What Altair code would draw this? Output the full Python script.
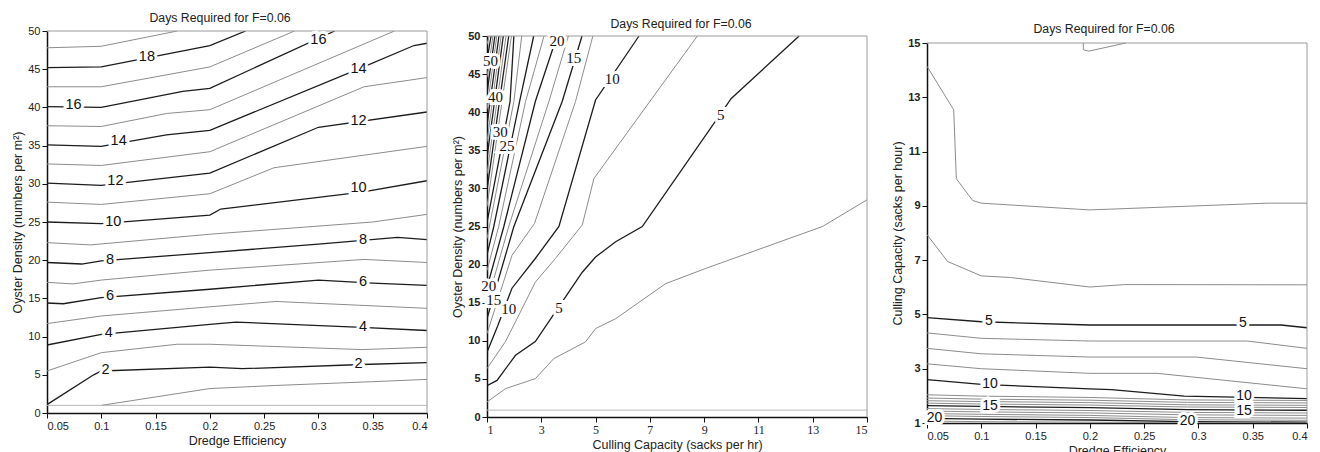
import altair as alt
import pandas as pd

FONT = "Liberation Sans"
SERIF = "Liberation Serif"
TITLE = "Days Required for F=0.06"

# ---------------- Panel A: oyster density vs dredge efficiency -------------
A_D19 = [(0.05, 47.8), (0.1, 48.0), (0.17, 50)]
A_D18 = [(0.05, 45.2), (0.1, 45.3), (0.2, 48.1), (0.233, 50)]
A_D17 = [(0.05, 42.7), (0.1, 42.7), (0.2, 45.3), (0.278, 50)]
A_D16 = [(0.05, 40.1), (0.1, 40.0), (0.175, 42.1), (0.2, 42.5), (0.315, 50)]
A_D15 = [(0.05, 37.6), (0.1, 37.5), (0.16, 39.2), (0.2, 39.7), (0.37, 50)]
A_D14 = [(0.05, 35.1), (0.1, 34.9), (0.16, 36.4), (0.2, 37.0), (0.34, 45.2), (0.388, 48.1), (0.4, 48.4)]
A_D13 = [(0.05, 32.6), (0.1, 32.4), (0.2, 34.2), (0.342, 42.7), (0.4, 43.9)]
A_D12 = [(0.05, 30.1), (0.1, 29.8), (0.2, 31.4), (0.3, 37.4), (0.4, 39.4)]
A_D11 = [(0.05, 27.6), (0.1, 27.3), (0.2, 28.7), (0.259, 32.1), (0.4, 34.9)]
A_D10 = [(0.05, 25.0), (0.1, 24.8), (0.2, 25.9), (0.21, 26.7), (0.34, 28.9), (0.4, 30.4)]
A_D9 = [(0.05, 22.3), (0.09, 22.0), (0.2, 23.4), (0.35, 25.0), (0.4, 26.0)]
A_D8 = [(0.05, 19.7), (0.082, 19.5), (0.1, 19.9), (0.2, 21.0), (0.3, 22.1), (0.373, 23.0), (0.4, 22.7)]
A_D7 = [(0.05, 17.1), (0.074, 16.9), (0.1, 17.4), (0.2, 18.7), (0.342, 20.1), (0.4, 19.7)]
A_D6 = [(0.05, 14.4), (0.065, 14.3), (0.1, 15.1), (0.2, 16.2), (0.3, 17.4), (0.35, 17.0), (0.4, 16.7)]
A_D5 = [(0.05, 11.7), (0.1, 12.7), (0.2, 13.9), (0.261, 14.6), (0.4, 13.7)]
A_D4 = [(0.05, 8.9), (0.1, 10.3), (0.2, 11.6), (0.224, 11.9), (0.34, 11.2), (0.4, 10.8)]
A_D3 = [(0.05, 5.5), (0.1, 7.9), (0.17, 9.0), (0.2, 9.0), (0.34, 8.3), (0.4, 8.6)]
A_D2 = [(0.05, 1.1), (0.093, 5.0), (0.1, 5.5), (0.2, 6.0), (0.23, 5.8), (0.34, 6.35), (0.4, 6.6)]
A_D1 = [(0.1, 1.0), (0.2, 3.2), (0.26, 3.6), (0.35, 4.1), (0.4, 4.4)]
A_LINES = [(19, A_D19), (18, A_D18), (17, A_D17), (16, A_D16), (15, A_D15), (14, A_D14),
           (13, A_D13), (12, A_D12), (11, A_D11), (10, A_D10), (9, A_D9), (8, A_D8),
           (7, A_D7), (6, A_D6), (5, A_D5), (4, A_D4), (3, A_D3), (2, A_D2), (1, A_D1)]
A_LABEL_TEXT = ["18", "16", "14", "16", "14", "12", "12", "10", "10", "8", "8", "6", "6", "4", "4", "2", "2"]
A_LABEL_X = [0.142, 0.300, 0.337, 0.0745, 0.116, 0.337, 0.113, 0.337, 0.111, 0.108, 0.341, 0.108, 0.341, 0.107, 0.341, 0.104, 0.337]
A_LABEL_Y = [46.6, 48.8, 45.0, 40.3, 35.6, 38.2, 30.4, 29.4, 25.0, 20.0, 22.6, 15.3, 17.2, 10.5, 11.3, 5.6, 6.45]
A_XTICKS = [0.05, 0.1, 0.15, 0.2, 0.25, 0.3, 0.35, 0.4]
A_YTICKS = [0, 5, 10, 15, 20, 25, 30, 35, 40, 45, 50]

# ---------------- Panel B: oyster density vs culling capacity --------------
B_D2_5 = [(1, 1.97), (1.68, 3.72), (2.78, 5.03), (3.46, 7.66), (4.63, 9.86), (5.0, 11.6), (5.74, 12.9),
          (7.58, 17.5), (9.06, 19.5), (13.36, 25.0), (15, 28.5)]
B_D5 = [(1, 4.1), (1.37, 4.8), (2.05, 8.1), (2.78, 9.9), (3.52, 13.8), (4.51, 19.0), (5.0, 21.0),
        (5.74, 23.0), (6.72, 25.0), (10.0, 41.8), (12.5, 50)]
B_D7_5 = [(1, 6.35), (1.68, 9.9), (2.05, 12.5), (2.78, 17.7), (3.52, 20.8), (4.51, 25.2), (4.94, 31.3), (8.75, 50)]
B_D10 = [(1, 8.5), (1.4, 12.0), (1.92, 16.9), (2.78, 20.8), (3.65, 25.0), (5.0, 41.6), (6.6, 50)]
B_D12_5 = [(1, 10.95), (1.92, 21.2), (2.75, 25.4), (4.26, 41.4), (4.9, 50)]
B_D15 = [(1, 12.9), (1.99, 25.0), (3.77, 41.4), (4.5, 50)]
B_D17_5 = [(1, 15.0), (1.8, 25.0), (3.28, 41.4), (4.0, 50)]
B_D20 = [(1, 17.0), (1.62, 25.0), (2.78, 41.4), (3.58, 50)]
B_D22_5 = [(1, 19.2), (1.43, 25.0), (2.42, 41.4), (3.1, 50)]
B_D25 = [(1, 21.3), (1.25, 25.0), (2.2, 41.4), (2.72, 50)]
B_D27_5 = [(1, 23.4), (1.99, 41.4), (2.28, 50)]
B_D30 = [(1, 25.5), (1.85, 41.4), (1.99, 50)]
B_D32_5 = [(1, 27.6), (1.9, 50)]
B_D35 = [(1, 29.8), (1.8, 50)]
B_D37_5 = [(1, 31.9), (1.7, 50)]
B_D40 = [(1, 34.0), (1.6, 50)]
B_D42_5 = [(1, 36.1), (1.52, 50)]
B_D45 = [(1, 38.3), (1.44, 50)]
B_D47_5 = [(1, 40.4), (1.36, 50)]
B_D50 = [(1, 42.5), (1.29, 50)]
B_D52_5 = [(1, 44.6), (1.22, 50)]
B_D55 = [(1, 46.8), (1.15, 50)]
B_D57_5 = [(1, 48.9), (1.08, 50)]
B_LINES = [(2.5, B_D2_5), (5, B_D5), (7.5, B_D7_5), (10, B_D10), (12.5, B_D12_5), (15, B_D15),
           (17.5, B_D17_5), (20, B_D20), (22.5, B_D22_5), (25, B_D25), (27.5, B_D27_5), (30, B_D30),
           (32.5, B_D32_5), (35, B_D35), (37.5, B_D37_5), (40, B_D40), (42.5, B_D42_5), (45, B_D45),
           (47.5, B_D47_5), (50, B_D50), (52.5, B_D52_5), (55, B_D55), (57.5, B_D57_5)]
B_LABEL_TEXT = ["50", "40", "30", "25", "20", "15", "10", "5", "20", "15", "10", "5"]
B_LABEL_X = [1.125, 1.31, 1.49, 1.74, 3.58, 4.2, 5.61, 9.61, 1.06, 1.25, 1.8, 3.65]
B_LABEL_Y = [46.7, 42.05, 37.45, 35.5, 49.3, 47.1, 44.4, 39.6, 17.2, 15.3, 14.2, 14.3]
B_XTICKS = [1, 3, 5, 7, 9, 11, 13, 15]
B_YTICKS = [0, 5, 10, 15, 20, 25, 30, 35, 40, 45, 50]

# ---------------- Panel C: culling capacity vs dredge efficiency -----------
C_D2 = [(0.194, 15), (0.194, 14.75), (0.199, 14.7), (0.233, 15)]
C_D3 = [(0.05, 14.14), (0.0746, 12.54), (0.077, 10.0), (0.092, 9.2), (0.1, 9.1), (0.2, 8.85), (0.364, 9.1), (0.4, 9.1)]
C_D4 = [(0.05, 7.94), (0.069, 6.95), (0.1, 6.42), (0.127, 6.36), (0.2, 6.01), (0.232, 6.1), (0.4, 6.09)]
C_D5 = [(0.05, 4.88), (0.1, 4.73), (0.2, 4.61), (0.376, 4.61), (0.4, 4.51)]
C_D6 = [(0.05, 4.32), (0.1, 4.12), (0.2, 4.02), (0.345, 4.02), (0.4, 3.75)]
C_D7 = [(0.05, 3.75), (0.1, 3.55), (0.2, 3.43), (0.298, 3.43), (0.4, 3.0)]
C_D8 = [(0.05, 3.18), (0.1, 3.0), (0.2, 2.83), (0.262, 2.83), (0.4, 2.26)]
C_D10 = [(0.05, 2.6), (0.1, 2.42), (0.2, 2.26), (0.22, 2.23), (0.287, 1.99), (0.4, 1.9)]
C_D11 = [(0.05, 2.04), (0.1, 1.99), (0.2, 1.94), (0.29, 1.85), (0.4, 1.83)]
C_D12 = [(0.05, 1.92), (0.1, 1.88), (0.2, 1.84), (0.29, 1.76), (0.4, 1.74)]
C_D13 = [(0.05, 1.82), (0.1, 1.79), (0.2, 1.75), (0.29, 1.67), (0.4, 1.65)]
C_D14 = [(0.05, 1.73), (0.1, 1.70), (0.2, 1.66), (0.29, 1.59), (0.4, 1.57)]
C_D15 = [(0.05, 1.64), (0.1, 1.61), (0.2, 1.57), (0.29, 1.49), (0.4, 1.47)]
C_D16 = [(0.05, 1.53), (0.1, 1.50), (0.2, 1.46), (0.29, 1.39), (0.4, 1.37)]
C_D17 = [(0.05, 1.44), (0.1, 1.41), (0.2, 1.37), (0.29, 1.30), (0.4, 1.28)]
C_D18 = [(0.05, 1.35), (0.1, 1.32), (0.2, 1.28), (0.29, 1.20), (0.4, 1.18)]
C_D19 = [(0.05, 1.27), (0.1, 1.24), (0.2, 1.20), (0.29, 1.12), (0.4, 1.10)]
C_D20 = [(0.05, 1.17), (0.1, 1.14), (0.2, 1.11), (0.29, 1.05), (0.4, 1.03)]
C_D21 = [(0.05, 1.07), (0.1, 1.05), (0.2, 1.03), (0.29, 1.01), (0.4, 1.0)]
C_LINES = [(2, C_D2), (3, C_D3), (4, C_D4), (5, C_D5), (6, C_D6), (7, C_D7), (8, C_D8), (10, C_D10),
           (11, C_D11), (12, C_D12), (13, C_D13), (14, C_D14), (15, C_D15), (16, C_D16), (17, C_D17),
           (18, C_D18), (19, C_D19), (20, C_D20), (21, C_D21)]
C_LABEL_TEXT = ["5", "5", "10", "10", "15", "15", "20", "20"]
C_LABEL_X = [0.107, 0.341, 0.108, 0.342, 0.108, 0.342, 0.057, 0.29]
C_LABEL_Y = [4.77, 4.68, 2.45, 1.98, 1.62, 1.46, 1.18, 1.06]
C_XTICKS = [0.05, 0.1, 0.15, 0.2, 0.25, 0.3, 0.35, 0.4]
C_YTICKS = [1, 3, 5, 7, 9, 11, 13, 15]


def lines_frame(lines, black_test):
    rows = []
    for k, (lev, pts) in enumerate(lines):
        tone = "black" if black_test(lev) else "gray"
        for i, (x, y) in enumerate(pts):
            rows.append({"line": k, "i": i, "x": x, "y": y, "tone": tone})
    return pd.DataFrame(rows)


def labels_frame(txt, xs, ys):
    return pd.DataFrame({"t": txt, "x": xs, "y": ys})


def panel(lines_df, lab_df, xdom, ydom, xticks, yticks, xtitle, ytitle,
          lab_font, lab_size, group_h, top_gap, title_dy, title_dx, base_rule=None,
          ylab_bold=False, xlab_font=FONT, xlab_size=11):
    xs = alt.Scale(domain=xdom, nice=False, zero=False)
    ys = alt.Scale(domain=ydom, nice=False, zero=False, range=[group_h, top_gap])
    xax = alt.Axis(values=xticks, title=xtitle, format="~g", grid=False, labelOverlap=False,
                   labelFont=xlab_font, labelFontSize=xlab_size)
    yax = alt.Axis(values=yticks, title=ytitle, format="~g", grid=False, labelOverlap=False,
                   tickCount=len(yticks), labelFontWeight="bold" if ylab_bold else "normal")
    one = pd.DataFrame({"k": [0]})
    frame_top = alt.Chart(one).mark_rule(color="#9a9a9a", strokeWidth=1).encode(
        x=alt.datum(xdom[0]), x2=alt.datum(xdom[1]), y=alt.datum(ydom[1]))
    frame_right = alt.Chart(one).mark_rule(color="#9a9a9a", strokeWidth=1).encode(
        x=alt.datum(xdom[1]), y=alt.datum(ydom[0]), y2=alt.datum(ydom[1]))
    base = alt.Chart(lines_df).mark_line(clip=True).encode(
        x=alt.X("x:Q", scale=xs, axis=xax),
        y=alt.Y("y:Q", scale=ys, axis=yax),
        detail="line:N",
        order="i:Q",
        color=alt.Color("tone:N", scale=alt.Scale(domain=["black", "gray"], range=["#1c1c1c", "#8c8c8c"]), legend=None),
        strokeWidth=alt.StrokeWidth("tone:N", scale=alt.Scale(domain=["black", "gray"], range=[1.3, 1.0]), legend=None),
    )
    layers = [base, frame_top, frame_right]
    if base_rule is not None:
        layers.append(alt.Chart(one).mark_rule(color="#b8b8b8", strokeWidth=1).encode(
            y=alt.datum(base_rule), x=alt.datum(xdom[0]), x2=alt.datum(xdom[1])))
    halo = alt.Chart(lab_df).mark_text(font=lab_font, fontSize=lab_size, stroke="white",
                                       strokeWidth=6, color="white").encode(
        x=alt.X("x:Q", scale=xs), y=alt.Y("y:Q", scale=ys), text="t:N")
    txt = alt.Chart(lab_df).mark_text(font=lab_font, fontSize=lab_size, color="#111").encode(
        x=alt.X("x:Q", scale=xs), y=alt.Y("y:Q", scale=ys), text="t:N")
    layers += [halo, txt]
    tp = alt.TitleParams(TITLE, fontSize=12.3, fontWeight="normal", font=FONT, color="#222",
                         offset=1, dy=title_dy, dx=title_dx)
    return alt.layer(*layers).properties(width=380, height=group_h, title=tp)


A_df = lines_frame(A_LINES, lambda v: v % 2 == 0)
B_df = lines_frame(B_LINES, lambda v: v % 5 == 0)
C_df = lines_frame(C_LINES, lambda v: v in (5, 10, 15, 20))

pA = panel(A_df, labels_frame(A_LABEL_TEXT, A_LABEL_X, A_LABEL_Y), [0.05, 0.4], [0, 50], A_XTICKS, A_YTICKS,
           "Dredge Efficiency", "Oyster Density (numbers per m²)", FONT, 14.5,
           382, 0, 0, -17, base_rule=1)
pB = panel(B_df, labels_frame(B_LABEL_TEXT, B_LABEL_X, B_LABEL_Y), [1, 15], [0, 50], B_XTICKS, B_YTICKS,
           "Culling Capacity (sacks per hr)", "Oyster Density (numbers per m²)", SERIF, 15,
           386, 5, 1, 4, base_rule=0.9, ylab_bold=True, xlab_font=SERIF, xlab_size=12)
pC = panel(C_df, labels_frame(C_LABEL_TEXT, C_LABEL_X, C_LABEL_Y), [0.05, 0.4], [1, 15], C_XTICKS, C_YTICKS,
           "Dredge Efficiency", "Culling Capacity (sacks per hour)", FONT, 14,
           392, 12, 5, -13, ylab_bold=True)

chart = alt.hconcat(pA, pB, pC, spacing=23).configure(
    padding={"left": 3, "top": 3, "right": 0, "bottom": 0},
    font=FONT,
).configure_view(strokeOpacity=0).configure_axis(
    domainColor="#111", domainWidth=1.5, tickColor="#111", tickSize=5, tickWidth=1,
    labelFont=FONT, labelFontSize=11, labelColor="#222", labelPadding=2,
    titleFont=FONT, titleFontSize=12.5, titleFontWeight="normal", titleColor="#222", titlePadding=3,
)

chart.save("out.html", embed_options={"renderer": "svg", "actions": False})
